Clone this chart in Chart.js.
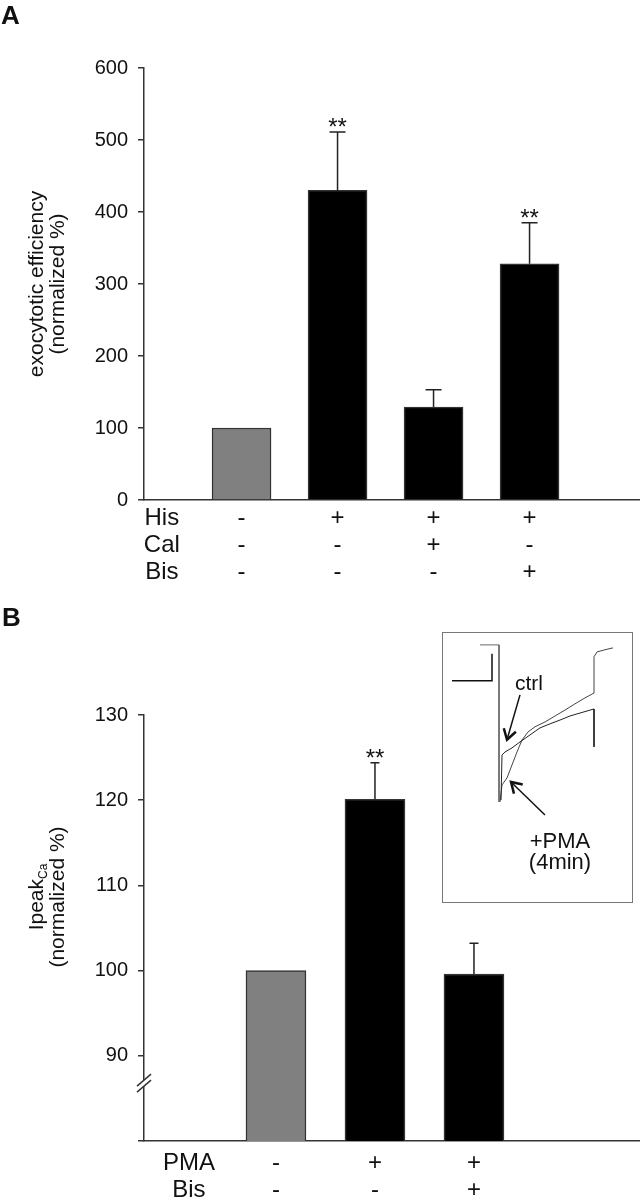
<!DOCTYPE html>
<html>
<head>
<meta charset="utf-8">
<script src="https://cdn.jsdelivr.net/npm/chart.js@4.4.1/dist/chart.umd.min.js"></script>
<style>
  body { margin: 0; background: #fff; }
  #page { position: relative; width: 640px; height: 1199px; overflow: hidden;
          font-family: "Liberation Sans", Arial, sans-serif; color: #111; }
  #page canvas { position: absolute; }
  .txt { position: absolute; line-height: 1; white-space: nowrap; text-align: center; }
  .panel { font-weight: bold; font-size: 26px; text-align: left; }
  #inset { position: absolute; left: 442px; top: 632px; width: 191px; height: 271px;
           border: 1px solid #777; box-sizing: border-box; }
  #inset canvas { left: 0; top: 0; }
  #ytitleB { position: absolute; left: -34px; top: 876px; width: 160px; height: 42px;
             line-height: 21px; font-size: 21px; text-align: center; transform: rotate(-90deg); }
  #ytitleB sub { font-size: 12px; line-height: 0; vertical-align: -4px; }
</style>
</head>
<body>
<div id="page">
  <canvas id="chartA" width="640" height="590" style="left:0;top:0"></canvas>
  <canvas id="chartB" width="640" height="599" style="left:0;top:600px"></canvas>
  <div id="inset"><canvas id="chartC" width="189" height="269"></canvas></div>

  <div class="txt panel" style="left:1px;top:2px">A</div>
  <div class="txt panel" style="left:2px;top:604px">B</div>
  <div id="ytitleB">Ipeak<sub>Ca</sub><br>(normalized %)</div>
  <div class="txt" style="left:499px;top:672px;width:60px;font-size:21px">ctrl</div>
  <div class="txt" style="left:520px;top:830px;width:80px;font-size:22px">+PMA</div>
  <div class="txt" style="left:520px;top:851px;width:80px;font-size:22px">(4min)</div>
</div>
<script>
// panel A - exocytotic efficiency
const groupsA = [1, 2, 3, 4];
const effMean = [100, 430, 129, 328];
const effSem = [0, 81, 24, 57];
const effSig = ['', '**', '', '**'];
const hisRow = ['-', '+', '+', '+'];
const calRow = ['-', '-', '+', '-'];
const bisRowA = ['-', '-', '-', '+'];
const rowNamesA = ['His', 'Cal', 'Bis'];

// panel B - Ipeak Ca
const groupsB = [1, 2, 3];
const ipeakMean = [100, 120.1, 99.6];
const ipeakSem = [0, 4.3, 3.6];
const ipeakSig = ['', '**', ''];
const pmaRow = ['-', '+', '+'];
const bisRowB = ['-', '-', '+'];
const rowNamesB = ['PMA', 'Bis'];
const ipeakTicks = [80, 90, 100, 110, 120, 130];
const ipeakBreak = 86.8;

// inset traces (ms, pA)
const holdT = [0, 9.5, 9.5];
const holdI = [0, 0, -581];
const ctrlT = [10.5, 11, 12.5, 16, 20, 25, 30, 35, 40, 45, 50, 57, 57];
const ctrlI = [-574, -407, -396, -381, -359, -333, -307, -292, -278, -263, -252, -237, -377];
const pmaT = [10, 11, 13.5, 16, 18.5, 21, 24, 27.5, 32.5, 37.5, 42.5, 47.5, 52.5, 57, 57, 58.5, 62.5, 66.5];
const pmaI = [-581, -518, -492, -444, -396, -352, -322, -303, -285, -263, -241, -218, -196, -178, -44, -26, -18, -11];
const scaleBarT = [-14, 6, 6];
const scaleBarI = [-133, -133, -33];
const ctrlArrow = [[20, -185], [13.5, -351]];
const pmaArrow = [[32.5, -629], [15.5, -507]];

const FONT = '"Liberation Sans", Arial, sans-serif';
Chart.defaults.font.family = FONT;
Chart.defaults.color = '#111';

function errorBars(sem, sig, cap) {
    return {
        id: 'errorBars',
        afterDatasetsDraw(chart) {
            const ctx = chart.ctx;
            const y = chart.scales.y;
            const pts = chart.data.datasets[0].data;
            ctx.save();
            ctx.strokeStyle = '#222';
            ctx.lineWidth = 1.5;
            ctx.fillStyle = '#111';
            ctx.font = '24px ' + FONT;
            ctx.textAlign = 'center';
            chart.getDatasetMeta(0).data.forEach((bar, i) => {
                const top = y.getPixelForValue(pts[i].y + sem[i]);
                if (sem[i]) {
                    ctx.beginPath();
                    ctx.moveTo(bar.x, bar.y);
                    ctx.lineTo(bar.x, top);
                    ctx.moveTo(bar.x - cap, top);
                    ctx.lineTo(bar.x + cap, top);
                    ctx.stroke();
                }
                if (sig[i]) ctx.fillText(sig[i], bar.x, top + 3);
            });
            ctx.restore();
        }
    };
}

function barPanel(id, o) {
    return new Chart(document.getElementById(id), {
        type: 'bar',
        data: {
            datasets: [{
                data: o.groups.map((g, i) => ({ x: g, y: o.mean[i] })),
                backgroundColor: o.groups.map((g, i) => i === 0 ? '#808080' : '#000'),
                borderColor: '#333',
                borderWidth: 1.5,
                barThickness: o.barWidth
            }]
        },
        options: {
            responsive: false,
            animation: false,
            layout: { padding: { top: o.top, right: 1, left: 0, bottom: 0 } },
            plugins: { legend: { display: false }, tooltip: { enabled: false } },
            scales: {
                x: {
                    type: 'linear',
                    offset: false,
                    min: o.xMin,
                    max: o.xMax,
                    grid: { display: false, drawTicks: false, offset: false },
                    border: { color: '#333', width: 1.5 },
                    afterBuildTicks: s => { s.ticks = [o.rowAt, ...o.groups].map(v => ({ value: v })); },
                    afterFit: s => { s.height = o.xHeight; },
                    ticks: {
                        autoSkip: false,
                        maxRotation: 0,
                        padding: o.labelPad,
                        color: '#111',
                        font: { size: 24, lineHeight: 27 / 24 },
                        callback: v => v === o.rowAt ? o.rowNames : o.rows.map(r => r[o.groups.indexOf(v)])
                    }
                },
                y: Object.assign({
                    min: o.yMin,
                    max: o.yMax,
                    grid: { drawOnChartArea: false, tickLength: 6, color: '#333', lineWidth: 1.5 },
                    border: { color: '#333', width: 1.5 },
                    afterFit: s => { s.width = 144; },
                    ticks: { padding: 10, color: '#111', font: { size: 20 } }
                }, o.y)
            }
        },
        plugins: o.plugins
    });
}

barPanel('chartA', {
    groups: groupsA, mean: effMean, barWidth: 59,
    top: 68, xMin: -0.016, xMax: 5.14, xHeight: 90, labelPad: 4.5,
    rowAt: 0.17, rowNames: rowNamesA, rows: [hisRow, calRow, bisRowA],
    yMin: 0, yMax: 600,
    y: {
        ticks: { padding: 10, color: '#111', font: { size: 20 }, stepSize: 100 },
        title: {
            display: true,
            text: ['exocytotic efficiency', '(normalized %)'],
            color: '#111',
            font: { size: 21, lineHeight: 1 },
            padding: { top: 26.5 }
        }
    },
    plugins: [errorBars(effSem, effSig, 8)]
});

const axisBreak = {
    id: 'axisBreak',
    afterDraw(chart) {
        const ctx = chart.ctx;
        const x = chart.chartArea.left;
        const yb = chart.scales.y.getPixelForValue(ipeakBreak);
        ctx.save();
        ctx.fillStyle = '#fff';
        ctx.fillRect(x - 3, yb - 3, 6, 6);
        ctx.strokeStyle = '#333';
        ctx.lineWidth = 1.5;
        [-3, 3].forEach(d => {
            ctx.beginPath();
            ctx.moveTo(x - 7, yb + d + 6);
            ctx.lineTo(x + 7, yb + d - 6);
            ctx.stroke();
        });
        ctx.restore();
    }
};

barPanel('chartB', {
    groups: groupsB, mean: ipeakMean, barWidth: 60,
    top: 115, xMin: -0.333, xMax: 4.667, xHeight: 58, labelPad: 8.5,
    rowAt: 0.121, rowNames: rowNamesB, rows: [pmaRow, bisRowB],
    yMin: ipeakTicks[0], yMax: ipeakTicks[ipeakTicks.length - 1],
    y: {
        afterBuildTicks: s => { s.ticks = ipeakTicks.map(v => ({ value: v })); },
        ticks: { padding: 10, color: '#111', font: { size: 20 }, callback: v => v === ipeakTicks[0] ? '' : v }
    },
    plugins: [errorBars(ipeakSem, ipeakSig, 4.5), axisBreak]
});

// inset: current traces
const pts = (t, i) => t.map((v, k) => ({ x: v, y: i[k] }));

const arrows = {
    id: 'arrows',
    afterDatasetsDraw(chart) {
        const ctx = chart.ctx;
        const sx = chart.scales.x, sy = chart.scales.y;
        ctx.save();
        ctx.strokeStyle = '#111';
        [ctrlArrow, pmaArrow].forEach(a => {
            const x0 = sx.getPixelForValue(a[0][0]), y0 = sy.getPixelForValue(a[0][1]);
            const x1 = sx.getPixelForValue(a[1][0]), y1 = sy.getPixelForValue(a[1][1]);
            const ang = Math.atan2(y1 - y0, x1 - x0);
            ctx.lineWidth = 1.5;
            ctx.beginPath();
            ctx.moveTo(x0, y0);
            ctx.lineTo(x1, y1);
            ctx.stroke();
            ctx.lineWidth = 2.5;
            ctx.beginPath();
            ctx.moveTo(x1 - 12 * Math.cos(ang - 0.55), y1 - 12 * Math.sin(ang - 0.55));
            ctx.lineTo(x1, y1);
            ctx.lineTo(x1 - 12 * Math.cos(ang + 0.55), y1 - 12 * Math.sin(ang + 0.55));
            ctx.stroke();
        });
        ctx.restore();
    }
};

new Chart(document.getElementById('chartC'), {
    type: 'line',
    data: {
        datasets: [
            { data: pts(holdT, holdI), borderColor: '#666', borderWidth: 1 },
            { data: pts(ctrlT, ctrlI), borderColor: '#222', borderWidth: 1 },
            { data: pts(pmaT, pmaI), borderColor: '#444', borderWidth: 1 },
            { data: pts(scaleBarT, scaleBarI), borderColor: '#111', borderWidth: 1.5 }
        ]
    },
    options: {
        responsive: false,
        animation: false,
        layout: { padding: 0 },
        elements: { point: { radius: 0 }, line: { tension: 0 } },
        plugins: { legend: { display: false }, tooltip: { enabled: false } },
        scales: {
            x: { type: 'linear', display: false, min: -18.5, max: 76 },
            y: { display: false, min: -951, max: 44 }
        }
    },
    plugins: [arrows]
});
</script>
</body>
</html>
